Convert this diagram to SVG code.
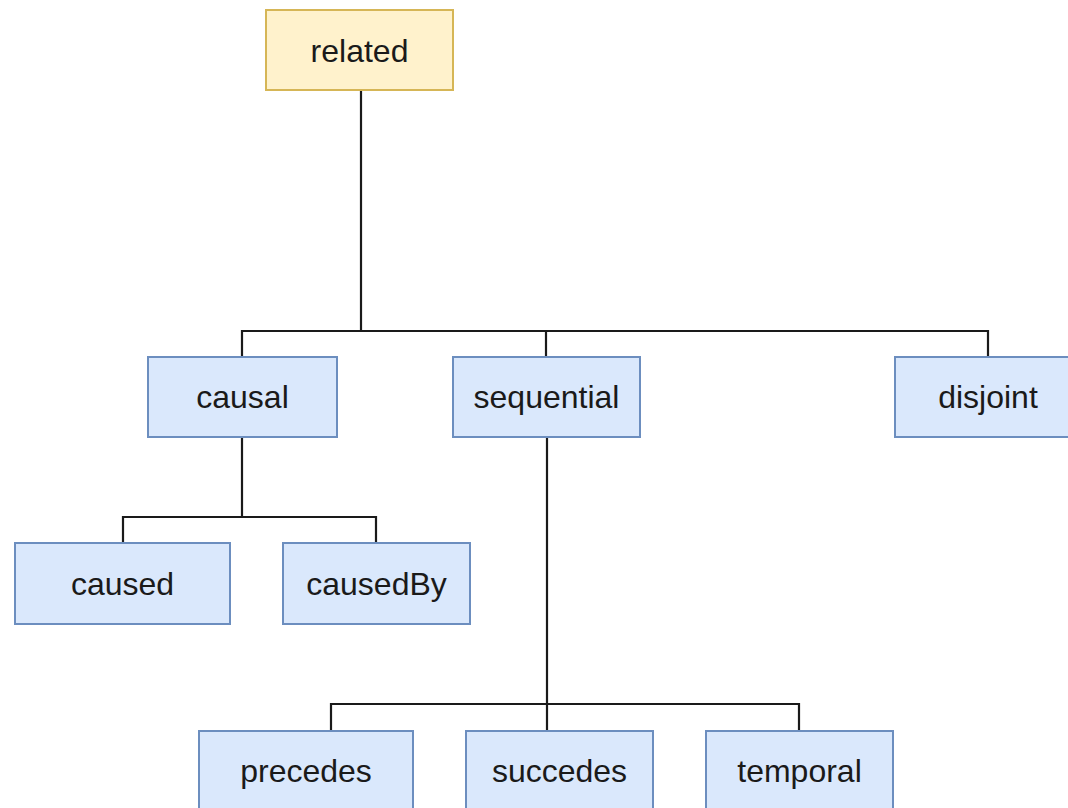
<svg xmlns="http://www.w3.org/2000/svg" width="1068" height="808" viewBox="0 0 1068 808">
<style>
.box{fill:#dae8fc;stroke:#6c8ebf;stroke-width:2}
.root{fill:#fff2cc;stroke:#d6b656;stroke-width:2}
.lbl{font-family:"Liberation Sans",Arial,sans-serif;font-size:32px;fill:#1a1a1a;text-anchor:middle}
.edge{fill:none;stroke:#1a1a1a;stroke-width:2.2}
</style>
<rect width="1068" height="808" fill="#ffffff"/>
<g id="connectors">
<path class="edge" d="M361 90 V331"/>
<path class="edge" d="M242 357 V331 H988 V357"/>
<path class="edge" d="M546 331 V357"/>
<path class="edge" d="M242 437 V517"/>
<path class="edge" d="M123 543 V517 H376 V543"/>
<path class="edge" d="M547 437 V731"/>
<path class="edge" d="M331 731 V704 H799 V731"/>
</g>
<g id="related"><rect class="root" x="266" y="10" width="187" height="80"/><text class="lbl" x="359.5" y="62">related</text></g>
<g id="causal"><rect class="box" x="148" y="357" width="189" height="80"/><text class="lbl" x="242.5" y="408">causal</text></g>
<g id="sequential"><rect class="box" x="453" y="357" width="187" height="80"/><text class="lbl" x="546.5" y="408">sequential</text></g>
<g id="disjoint"><rect class="box" x="895" y="357" width="187" height="80"/><text class="lbl" x="988" y="408">disjoint</text></g>
<g id="caused"><rect class="box" x="15" y="543" width="215" height="81"/><text class="lbl" x="122.5" y="595">caused</text></g>
<g id="causedBy"><rect class="box" x="283" y="543" width="187" height="81"/><text class="lbl" x="376.5" y="595">causedBy</text></g>
<g id="precedes"><rect class="box" x="199" y="731" width="214" height="81"/><text class="lbl" x="306" y="782">precedes</text></g>
<g id="succedes"><rect class="box" x="466" y="731" width="187" height="81"/><text class="lbl" x="559.5" y="782">succedes</text></g>
<g id="temporal"><rect class="box" x="706" y="731" width="187" height="81"/><text class="lbl" x="799.5" y="782">temporal</text></g>
</svg>
